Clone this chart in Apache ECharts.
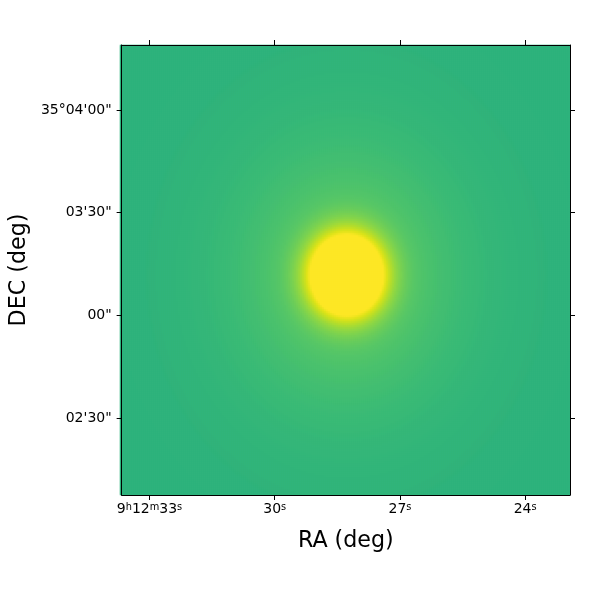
<!DOCTYPE html>
<html><head><meta charset="utf-8">
<script src="https://cdn.jsdelivr.net/npm/echarts@6/dist/echarts.min.js"></script>
<style>html,body{margin:0;padding:0;background:#fff}#c{width:600px;height:600px}</style>
</head><body><div id="c"></div>
<script>
// Field of view: RA in seconds of 9h12m (left -> right), Dec in arcsec above 35°00'00"
const raLimits = [33.668, 22.926];
const decLimits = [127.5, 259.0];
const raTicks = [33, 30, 27, 24];
const raTickLabels = ['9h12m33s', '30s', '27s', '24s'];
const decTicks = [150, 180, 210, 240];
const decTickLabels = ['02\'30"', '00"', '03\'30"', '35°04\'00"'];
// Source model (display units, clipped at vmax)
const sourceCenter = [28.25, 191.8];       // RA s, Dec arcsec
const componentAmplitude = [0.81, 0.12];   // core, halo
const componentSigma = [7.0, 22.0];        // arcsec (RA direction)
const axisRatio = [1.1, 1.18];             // Dec sigma / RA sigma per component
const skyLevel = [0.645];
const displayRange = [0, 1];
const viridis = ['#440154','#481467','#482576','#453781','#404688','#39558c','#33638d','#2d718e','#287d8e','#238a8d','#1f968b','#20a386','#29af7f','#3dbc74','#56c667','#75d054','#95d840','#bade28','#dde318','#fde725'];
const nPix = [225];

const N = nPix[0];
const raStep = (raLimits[0] - raLimits[1]) / N;
const decStep = (decLimits[1] - decLimits[0]) / N;
const raCats = [], decCats = [];
for (let i = 0; i < N; i++) raCats.push((raLimits[0] - (i + 0.5) * raStep).toFixed(4));
for (let j = 0; j < N; j++) decCats.push((decLimits[0] + (j + 0.5) * decStep).toFixed(3));
const decRad = (35 + sourceCenter[1] / 3600) * Math.PI / 180;
const arcPerSec = 15 * Math.cos(decRad);
const cells = [];
for (let i = 0; i < N; i++) {
  const ra = raLimits[0] - (i + 0.5) * raStep;
  const dx = (ra - sourceCenter[0]) * arcPerSec;
  for (let j = 0; j < N; j++) {
    const dec = decLimits[0] + (j + 0.5) * decStep;
    const dyRaw = dec - sourceCenter[1];
    let v = skyLevel[0];
    for (let k = 0; k < componentAmplitude.length; k++) {
      const dy = dyRaw / axisRatio[k];
      const r2 = dx * dx + dy * dy;
      v += componentAmplitude[k] * Math.exp(-r2 / (2 * componentSigma[k] * componentSigma[k]));
    }
    v = Math.max(displayRange[0], Math.min(displayRange[1], v));
    cells.push([i, j, v]);
  }
}

const font = 'DejaVu Sans';
const raFormatter = v => {
  const t = raTickLabels[raTicks.indexOf(v)] || '';
  return t.replace(/(\d+)([hms])/g, '{n|$1}{s|$2}');
};
const chart = echarts.init(document.getElementById('c'), null, {renderer: 'canvas'});
chart.setOption({
  animation: false,
  backgroundColor: '#fff',
  grid: [
    {left: 120, top: 45, width: 450, height: 450, show: false},
    {left: 120, top: 45, width: 450, height: 450, show: false}
  ],
  xAxis: [
    {type: 'category', gridIndex: 0, data: raCats, show: false},
    {type: 'value', gridIndex: 1, position: 'bottom', inverse: true, min: raLimits[1], max: raLimits[0], z: 10,
     splitLine: {show: false},
     axisLine: {show: true, lineStyle: {color: '#000', width: 1}},
     axisTick: {show: true, inside: false, length: 5, customValues: raTicks, lineStyle: {color: '#000'}},
     axisLabel: {margin: 7.5, customValues: raTicks, formatter: raFormatter, color: '#000', fontFamily: font, fontSize: 14,
       rich: {
         n: {fontSize: 14, lineHeight: 14, verticalAlign: 'top', color: '#000', fontFamily: font},
         s: {fontSize: 9.8, lineHeight: 8, verticalAlign: 'top', color: '#000', fontFamily: font}
       }},
     name: 'RA (deg)', nameLocation: 'middle', nameGap: 35,
     nameTextStyle: {color: '#000', fontSize: 22.2, fontFamily: font}},
    {type: 'value', gridIndex: 1, position: 'top', inverse: true, min: raLimits[1], max: raLimits[0], z: 10,
     splitLine: {show: false},
     axisLine: {show: true, lineStyle: {color: '#000', width: 1}},
     axisTick: {show: true, inside: false, length: 5, customValues: raTicks, lineStyle: {color: '#000'}},
     axisLabel: {show: false}}
  ],
  yAxis: [
    {type: 'category', gridIndex: 0, data: decCats, show: false},
    {type: 'value', gridIndex: 1, position: 'left', min: decLimits[0], max: decLimits[1], z: 10,
     splitLine: {show: false},
     axisLine: {show: true, lineStyle: {color: '#000', width: 1}},
     axisTick: {show: true, inside: false, length: 5, customValues: decTicks, lineStyle: {color: '#000'}},
     axisLabel: {margin: 10, customValues: decTicks, formatter: v => decTickLabels[decTicks.indexOf(v)],
       color: '#000', fontSize: 14, fontFamily: font},
     name: 'DEC (deg)', nameLocation: 'middle', nameGap: 88,
     nameTextStyle: {color: '#000', fontSize: 22.2, fontFamily: font}},
    {type: 'value', gridIndex: 1, position: 'right', min: decLimits[0], max: decLimits[1], z: 10,
     splitLine: {show: false},
     axisLine: {show: true, lineStyle: {color: '#000', width: 1}},
     axisTick: {show: true, inside: false, length: 5, customValues: decTicks, lineStyle: {color: '#000'}},
     axisLabel: {show: false}}
  ],
  visualMap: {type: 'continuous', show: false, min: displayRange[0], max: displayRange[1], seriesIndex: 0, dimension: 2,
    inRange: {color: viridis}},
  series: [{
    type: 'heatmap', xAxisIndex: 0, yAxisIndex: 0, data: cells, progressive: 0,
    itemStyle: {borderWidth: 0}, emphasis: {disabled: true}
  }]
});
</script></body></html>
